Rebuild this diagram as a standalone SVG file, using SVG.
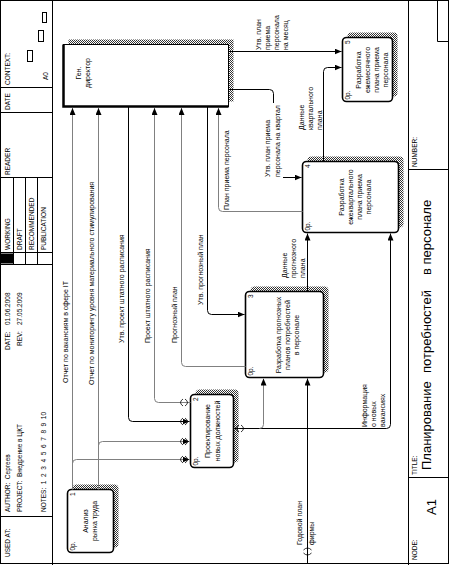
<svg xmlns="http://www.w3.org/2000/svg" width="450" height="565" viewBox="0 0 450 565">
<defs>
<pattern id="hatch" width="2" height="2" patternUnits="userSpaceOnUse"><rect width="1" height="1" fill="#333"/><rect x="1" y="1" width="1" height="1" fill="#333"/></pattern>
<marker id="ah" viewBox="0 0 7 6" refX="7" refY="3" markerWidth="7" markerHeight="6" markerUnits="userSpaceOnUse" orient="auto"><path d="M0,0 L7,3 L0,6 z" fill="#000"/></marker>
</defs>
<style>
text{font-family:"Liberation Sans",Arial,sans-serif;fill:#000}
.h{font-size:6.5px;white-space:pre}
.t{font-size:7px}
.m{text-anchor:middle}
.b{fill:#fff;stroke:#000;stroke-width:1.6}
.s{fill:url(#hatch);stroke:none}
.l{fill:none;stroke:#000;stroke-width:1}
.g{stroke:#808080}
.tn{fill:none;stroke:#000;stroke-width:0.8}
.ti{font-size:13px}
</style>
<rect width="450" height="565" fill="#fff"/>
<g transform="translate(0,565) rotate(-90)">
<g id="frame" class="l">
<rect x="1.5" y="0.5" width="563" height="448"/>
<path d="M0,52.5 H565 M0,408.5 H565"/>
<path d="M48.5,0 V52.5 M300.5,0 V52.5 M312.5,0 V52.5 M387.5,0 V52.5 M452.5,0 V52.5 M477.5,0 V52.5"/>
<path d="M300.5,13.5 H387.5 M300.5,25.5 H387.5 M300.5,37.5 H387.5"/>
<path d="M87.5,408.5 V449 M395.5,408.5 V449 M523.5,437.5 H565 M523.5,437.5 V449"/>
<rect x="503.5" y="27.5" width="11" height="5"/>
<rect x="523.5" y="38.5" width="11" height="5"/>
<rect x="542.5" y="42.5" width="10" height="4"/>
</g>
<rect x="301.5" y="1" width="10" height="12" fill="#000"/>
<g id="header">
<text class="h" x="8" y="10">USED AT:</text>
<text class="h" x="53" y="10">AUTHOR:  Сергеев</text>
<text class="h" x="53" y="22">PROJECT:  Внедрение в ЦКТ</text>
<text class="h" x="53" y="46">NOTES:  1  2  3  4  5  6  7  8  9  10</text>
<text class="h" x="215" y="10">DATE:</text>
<text class="h" x="240" y="10">01.06.2008</text>
<text class="h" x="219" y="22">REV:</text>
<text class="h" x="240" y="22">27.05.2009</text>
<text class="h" x="315" y="10">WORKING</text>
<text class="h" x="315" y="22">DRAFT</text>
<text class="h" x="315" y="34">RECOMMENDED</text>
<text class="h" x="315" y="46">PUBLICATION</text>
<text class="h" x="390" y="10">READER</text>
<text class="h" x="455" y="10">DATE</text>
<text class="h" x="480" y="10">CONTEXT:</text>
<text class="h" x="485" y="48">A0</text>
</g>
<g id="footer">
<text class="h" x="5" y="417">NODE:</text>
<text x="50" y="436" style="font-size:13px">A1</text>
<text class="h" x="90" y="417">TITLE:</text>
<text class="ti" x="95" y="431">Планирование</text>
<text class="ti" x="192" y="431">потребностей</text>
<text class="ti" x="290" y="431">в персонале</text>
<text class="h" x="398" y="417">NUMBER:</text>
</g>
<g id="node-dir">
<rect class="s" x="463.5" y="68.5" width="62" height="165"/>
<rect x="458.5" y="63.5" width="62" height="165" fill="#fff" stroke="#000" stroke-width="1"/>
<path d="M458.5,228.5 V63.5 H520.5" fill="none" stroke="#000" stroke-width="2.5"/>
<text class="t m" x="492" y="81">Ген.</text>
<text class="t m" x="492" y="90">директор</text>
</g>
<g id="node-1">
<rect class="s" x="17.5" y="72.5" width="63" height="46" rx="4"/>
<rect class="b" x="12.5" y="67.5" width="63" height="46" rx="4"/>
<text class="h" x="14.5" y="75">0р.</text>
<text class="h" x="69" y="75">1</text>
<text class="t m" x="44" y="88">Анализ</text>
<text class="t m" x="44" y="97">рынка труда</text>
</g>
<g id="node-2">
<rect class="s" x="102.5" y="195.5" width="73" height="43" rx="4"/>
<rect class="b" x="97.5" y="190.5" width="73" height="43" rx="4"/>
<text class="h" x="99.5" y="198">0р.</text>
<text class="h" x="164" y="198">2</text>
<text class="t m" x="134" y="210">Проектирование</text>
<text class="t m" x="134" y="219.5">новых должностей</text>
</g>
<g id="node-3">
<rect class="s" x="192.5" y="250.5" width="86" height="78" rx="4"/>
<rect class="b" x="187.5" y="245.5" width="86" height="78" rx="4"/>
<text class="h" x="189.5" y="253">0р.</text>
<text class="h" x="267" y="253">3</text>
<text class="t m" x="230" y="281">Разработка прогнозных</text>
<text class="t m" x="230" y="290">планов потребностей</text>
<text class="t m" x="230" y="299">в персонале</text>
</g>
<g id="node-4">
<rect class="s" x="337.5" y="307.5" width="71" height="96" rx="4"/>
<rect class="b" x="332.5" y="302.5" width="71" height="96" rx="4"/>
<text class="h" x="334.5" y="310">0р.</text>
<text class="h" x="397" y="310">4</text>
<text class="t m" x="368" y="344">Разработка</text>
<text class="t m" x="368" y="353">ежеквартального</text>
<text class="t m" x="368" y="362">плана приема</text>
<text class="t m" x="368" y="371">персонала</text>
</g>
<g id="node-5">
<rect class="s" x="468.5" y="347.5" width="64" height="50" rx="4"/>
<rect class="b" x="463.5" y="342.5" width="64" height="50" rx="4"/>
<text class="h" x="465.5" y="350">0р.</text>
<text class="h" x="521" y="350">5</text>
<text class="t m" x="495" y="361">Разработка</text>
<text class="t m" x="495" y="370">ежемесячного</text>
<text class="t m" x="495" y="379">плана приема</text>
<text class="t m" x="495" y="388">персонала</text>
</g>
<g id="connectors">
<path class="l g" d="M75.5,72.5 H457" marker-end="url(#ah)"/>
<path class="l g" d="M101.5,72.5 Q105.5,72.5 105.5,76.5 V189.5" marker-end="url(#ah)"/>
<path class="l g" d="M75.5,98.5 H457" marker-end="url(#ah)"/>
<path class="l g" d="M119.5,98.5 Q123.5,98.5 123.5,102.5 V189.5" marker-end="url(#ah)"/>
<path class="l" d="M458,128.5 H147.5 Q143.5,128.5 143.5,132.5 V189.5" marker-end="url(#ah)"/>
<path class="l g" d="M162.5,190.5 V158.5 Q162.5,154.5 166.5,154.5 H457" marker-end="url(#ah)"/>
<path class="l g" d="M198.5,245.5 V185.5 Q198.5,181.5 202.5,181.5 H457" marker-end="url(#ah)"/>
<path class="l" d="M458,207.5 H254.5 Q250.5,207.5 250.5,211.5 V244.5" marker-end="url(#ah)"/>
<path class="l g" d="M353.5,302.5 V222.5 Q353.5,218.5 357.5,218.5 H457" marker-end="url(#ah)"/>
<path class="l" d="M475.5,229 V269.5 Q475.5,273.5 471.5,273.5 H391.5 Q387.5,273.5 387.5,277.5 V301.5" marker-end="url(#ah)"/>
<path class="l" d="M513.5,229 V341.5" marker-end="url(#ah)"/>
<path class="l" d="M403.5,323.5 H493.5 Q497.5,323.5 497.5,327.5 V341.5" marker-end="url(#ah)"/>
<path class="l" d="M273.5,307.5 H331.5" marker-end="url(#ah)"/>
<path class="l" d="M2,307.5 H186.5" marker-end="url(#ah)"/>
<path class="l" d="M136.5,233.5 V386.5 Q136.5,390.5 140.5,390.5 H331.5" marker-end="url(#ah)"/>
<path class="l g" d="M136.5,259.5 Q136.5,263.5 140.5,263.5 H186.5" marker-end="url(#ah)"/>
<path class="tn" d="M102,183 Q105.5,178 109,183 M102,185 Q105.5,190 109,185 M120,183 Q123.5,178 127,183 M120,185 Q123.5,190 127,185 M140,183 Q143.5,178 147,183 M140,185 Q143.5,190 147,185 M159,183 Q162.5,178 166,183 M159,185 Q162.5,190 166,185"/>
<path class="tn" d="M133,239 Q136.5,234 140,239 M133,241 Q136.5,246 140,241"/>
<path class="tn" d="M12,303.5 Q8,307.5 12,311.5 M15,303.5 Q19,307.5 15,311.5"/>
<rect x="386" y="262" width="76" height="21" fill="#fff"/>
<text class="t" x="20" y="302">Годовой план</text>
<text class="t" x="20" y="314">фирмы</text>
<text class="t" x="182" y="68">Отчет по вакансиям в сфере IT</text>
<text class="t" x="180" y="94">Отчет по мониторингу уровня материального стимулирования</text>
<text class="t" x="222" y="124">Утв. проект штатного расписания</text>
<text class="t" x="222" y="150">Проект штатного расписания</text>
<text class="t" x="222" y="177">Прогнозный план</text>
<text class="t" x="260" y="203">Утв. прогнозный план</text>
<text class="t" x="355" y="229">План приема персонала</text>
<text class="t" x="388" y="270">Утв. план приема</text>
<text class="t" x="388" y="280">персонала на квартал</text>
<text class="t" x="515" y="261">Утв. план</text>
<text class="t" x="515" y="270">приема</text>
<text class="t" x="515" y="279">персонала</text>
<text class="t" x="515" y="288">на месяц</text>
<text class="t" x="435" y="304">Данные</text>
<text class="t" x="435" y="313">квартального</text>
<text class="t" x="435" y="322">плана</text>
<text class="t" x="287" y="287">Данные</text>
<text class="t" x="287" y="296">прогнозного</text>
<text class="t" x="287" y="305">плана</text>
<text class="t" x="138" y="367">Информация</text>
<text class="t" x="138" y="376">о новых</text>
<text class="t" x="138" y="385">вакансиях</text>
</g>
</g>
</svg>
